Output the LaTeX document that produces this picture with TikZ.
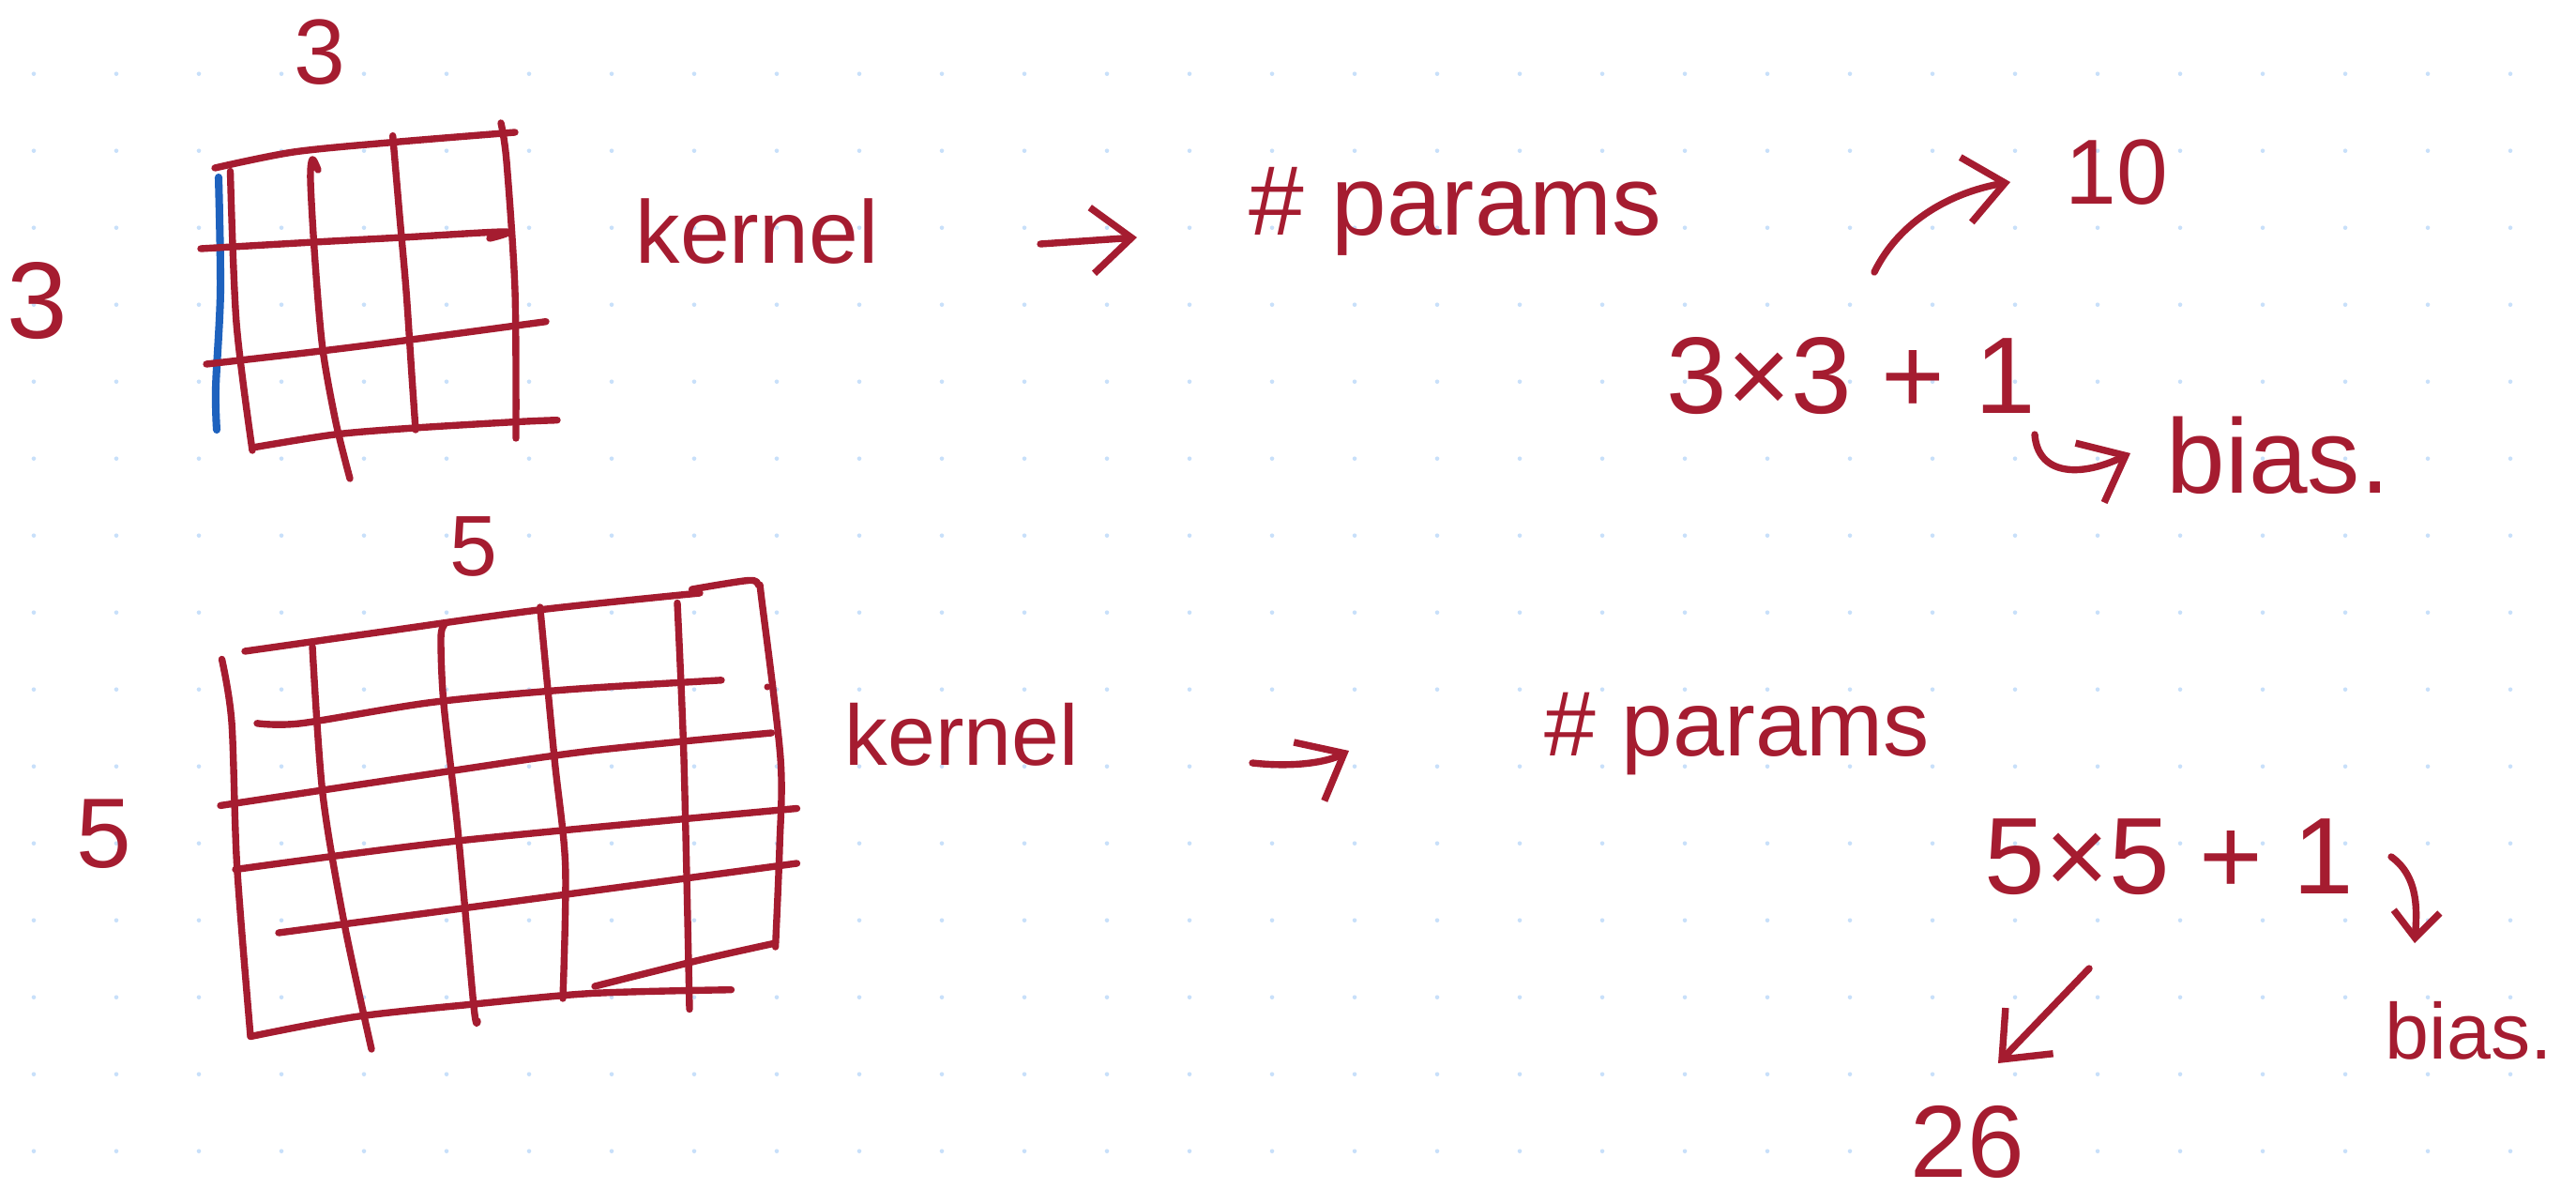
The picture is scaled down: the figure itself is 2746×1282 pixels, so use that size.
\documentclass[tikz,border=0pt]{standalone}
\usepackage{fontspec}
\setmainfont{Liberation Sans}
\usetikzlibrary{arrows.meta}
\definecolor{ink}{RGB}{165,28,48}
\definecolor{pen}{RGB}{30,98,190}
\definecolor{dotc}{RGB}{200,224,250}
\begin{document}
\begin{tikzpicture}[x=0.01cm,y=-0.01cm,
  stroke/.style={draw=ink, line width=2.1pt, line cap=round, line join=round},
  bluestroke/.style={draw=pen, line width=2.3pt, line cap=round},
  hand/.style={text=ink, inner sep=0pt, anchor=base west},
  handc/.style={text=ink, inner sep=0pt, anchor=base},
  arr/.style={stroke, -{Straight Barb[length=12pt,width=20pt,line width=2.1pt]}},
  arrsmall/.style={stroke, -{Straight Barb[length=8pt,width=14pt,line width=2.1pt]}},
]
% page and dot grid
\fill[white] (0,0) rectangle (2746,1282);
\useasboundingbox (0,0) rectangle (2746,1282);
\foreach \i in {0,...,30}{
  \foreach \j in {0,...,14}{
    \fill[dotc] (36+88*\i,78.7+82*\j) circle[radius=0.65pt];
  }
}

% ---------- small 3x3 kernel ----------
\draw[stroke] plot[smooth] coordinates {(229,179) (313,162) (420,151.5) (549,141)};
\draw[bluestroke] plot[smooth] coordinates {(233,189) (235,310) (230,413) (231,458)};
\draw[stroke] plot[smooth] coordinates {(245.5,182.5) (252,344) (269,480)};
\draw[stroke] plot[smooth] coordinates {(339,181) (333,170) (331,193) (336,280) (344,372) (358,450) (373,510)};
\draw[stroke] plot[smooth] coordinates {(418.7,144.6) (426,230) (433,310) (439,400) (443,458)};
\draw[stroke] plot[smooth] coordinates {(534,131) (540,172) (549,310) (550,467)};
\draw[stroke] plot[smooth] coordinates {(214,265) (335,258) (429,253) (538,247) (522,254)};
\draw[stroke] plot[smooth] coordinates {(220,388) (345,373.7) (441,361.6) (582,342.7)};
\draw[stroke] plot[smooth] coordinates {(269,477) (357,463) (442,456) (551,449.5) (594,447.7)};

% ---------- big 5x5 kernel ----------
\draw[stroke] plot[smooth] coordinates {(261,694) (402,674) (574,650) (746,632)};
\draw[stroke] plot[smooth] coordinates {(737.6,628) (798,618.5) (809,624) (812,639.5) (832,808) (831,903.5) (826.6,1009)};
\draw[stroke] plot[smooth] coordinates {(236.5,702.5) (247,769.5) (252.6,922.5) (267,1104)};
\draw[stroke] plot[smooth] coordinates {(267,1104.5) (379,1083.5) (505,1070) (631,1058.5) (779.5,1054.7)};
\draw[stroke] plot[smooth] coordinates {(634,1051) (746,1023) (826.6,1005)};
\draw[stroke] plot[smooth] coordinates {(333,689) (344,846) (367,984) (396,1118)};
\draw[stroke] plot[smooth] coordinates {(473.6,666) (470,680) (473,750) (488,884) (505,1072) (509,1088)};
\draw[stroke] plot[smooth] coordinates {(575.7,647) (591,808) (602.7,922.5) (600,1064)};
\draw[stroke] plot[smooth] coordinates {(722,642.5) (729,808) (735,1075.5)};
\draw[stroke] plot[smooth] coordinates {(274,770.8) (321,770.8) (459,748.6) (603,735) (769,724.8)};
\draw[stroke] plot[smooth] coordinates {(235,858.4) (482,821.3) (631,800) (822.5,781)};
\draw[stroke] plot[smooth] coordinates {(251,926.5) (488,896) (849.5,861.5)};
\draw[stroke] plot[smooth] coordinates {(297,994) (488,968.6) (849.5,920)};
\fill[ink] (818,732) circle[radius=1pt];

% ---------- labels ----------
\node[handc, font=\fontsize{28}{30}\selectfont] (top3) at (341,90) {3};
\node[handc, font=\fontsize{33}{35}\selectfont] (left3) at (40,360) {3};
\node[hand, font=\fontsize{27}{30}\selectfont] (k1) at (677,280) {kernel};
\node[hand, font=\fontsize{30}{32}\selectfont] (p1) at (1331,250) {\# params};
\node[handc, font=\fontsize{28}{30}\selectfont] (ten) at (2256,217) {10};
\node[hand, font=\fontsize{33}{35}\selectfont] (eq1) at (1776,440) {3×3 + 1};
\node[hand, font=\fontsize{32}{34}\selectfont] (bias1) at (2309,525) {bias.};

\node[handc, font=\fontsize{26}{28}\selectfont] (top5) at (505,613) {5};
\node[handc, font=\fontsize{30}{32}\selectfont] (left5) at (111,924) {5};
\node[hand, font=\fontsize{26}{28}\selectfont] (k2) at (900,815) {kernel};
\node[hand, font=\fontsize{28}{30}\selectfont] (p2) at (1646,805) {\# params};
\node[hand, font=\fontsize{33}{35}\selectfont] (eq2) at (2115,952) {5×5 + 1};
\node[hand, font=\fontsize{24}{26}\selectfont] (bias2) at (2542,1128) {bias.};
\node[handc, font=\fontsize{31}{33}\selectfont] (n26) at (2097,1254) {26};

% ---------- arrows ----------
\coordinate (a1s) at (1109,260);
\coordinate (a1e) at (1212,253);
\draw[arr] (a1s) -- (a1e);

\coordinate (a2s) at (1998,290);
\coordinate (a2e) at (2143,194);
\draw[arr] (a2s) .. controls (2025,235) and (2080,205) .. (a2e);

\coordinate (a3s) at (2169,463);
\coordinate (a3e) at (2271,483);
\draw[arr] (a3s) .. controls (2172,505) and (2215,510) .. (a3e);

\coordinate (a4s) at (1335,813);
\coordinate (a4e) at (1438,800);
\draw[arr] (a4s) .. controls (1380,818) and (1415,812) .. (a4e);

\coordinate (a5s) at (2227,1032);
\coordinate (a5e) at (2130,1133);
\draw[arr] (a5s) -- (a5e);

\coordinate (a6s) at (2549,913);
\coordinate (a6e) at (2574,1005);
\draw[arrsmall] (a6s) .. controls (2580,935) and (2576,975) .. (a6e);
\end{tikzpicture}
\end{document}
